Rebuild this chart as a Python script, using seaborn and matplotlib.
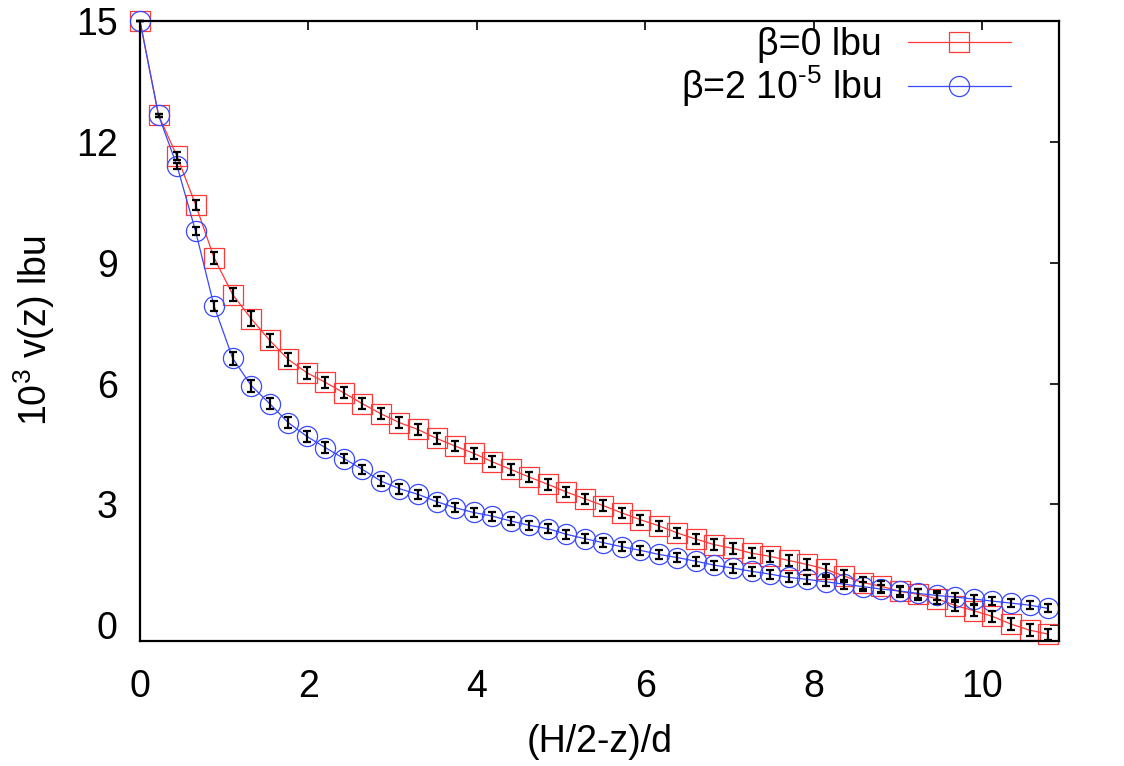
import numpy as np
import pandas as pd
import seaborn as sns
import matplotlib.pyplot as plt

# data (x step 0.22)
x = np.round(np.arange(50) * 0.22, 2)

v_beta0 = [15.0, 12.66, 11.64, 10.44, 9.12, 8.21, 7.61, 7.07, 6.60, 6.27,
           6.03, 5.77, 5.50, 5.25, 5.03, 4.86, 4.64, 4.45, 4.27, 4.06,
           3.87, 3.68, 3.50, 3.31, 3.14, 2.97, 2.79, 2.62, 2.47, 2.29,
           2.14, 2.00, 1.91, 1.79, 1.71, 1.61, 1.51, 1.39, 1.22, 1.06,
           0.97, 0.84, 0.77, 0.66, 0.49, 0.36, 0.22, 0.03, -0.12, -0.22]
err_beta0 = [0.0, 0.04, 0.10, 0.12, 0.14, 0.17, 0.18, 0.17, 0.16, 0.15,
             0.14, 0.14, 0.14, 0.14, 0.13, 0.13, 0.13, 0.13, 0.13, 0.13,
             0.13, 0.13, 0.13, 0.13, 0.13, 0.13, 0.13, 0.13, 0.13, 0.13,
             0.13, 0.13, 0.13, 0.13, 0.14, 0.14, 0.14, 0.14, 0.15, 0.15,
             0.14, 0.14, 0.14, 0.14, 0.14, 0.14, 0.14, 0.14, 0.14, 0.14]

v_beta2 = [15.0, 12.66, 11.40, 9.78, 7.92, 6.63, 5.95, 5.50, 5.03, 4.69,
           4.41, 4.14, 3.87, 3.58, 3.39, 3.25, 3.07, 2.92, 2.80, 2.71,
           2.59, 2.48, 2.40, 2.26, 2.15, 2.05, 1.95, 1.86, 1.76, 1.68,
           1.59, 1.49, 1.42, 1.34, 1.27, 1.19, 1.14, 1.08, 1.02, 0.96,
           0.90, 0.85, 0.79, 0.74, 0.70, 0.65, 0.60, 0.55, 0.50, 0.42]
err_beta2 = [0.0, 0.04, 0.08, 0.10, 0.12, 0.16, 0.15, 0.14, 0.14, 0.13,
             0.13, 0.12, 0.12, 0.12, 0.12, 0.11, 0.11, 0.11, 0.11, 0.11,
             0.11, 0.11, 0.11, 0.11, 0.11, 0.11, 0.11, 0.11, 0.11, 0.11,
             0.11, 0.11, 0.11, 0.11, 0.11, 0.11, 0.11, 0.11, 0.11, 0.11,
             0.11, 0.11, 0.11, 0.11, 0.11, 0.11, 0.10, 0.10, 0.10, 0.10]

labels = ['β=0 lbu', 'β=2 10$^{\u20105}$ lbu']

df = pd.DataFrame({
    'x': np.concatenate([x, x]),
    'v': v_beta0 + v_beta2,
    'err': err_beta0 + err_beta2,
    'run': [labels[0]] * len(x) + [labels[1]] * len(x),
})

sns.set_style('white')
plt.rcParams['font.family'] = ['Liberation Sans', 'DejaVu Sans']
plt.rcParams['mathtext.fontset'] = 'custom'
plt.rcParams['mathtext.rm'] = 'Liberation Sans'
plt.rcParams['mathtext.default'] = 'rm'
plt.rcParams['text.color'] = 'black'
plt.rcParams['axes.labelcolor'] = 'black'
plt.rcParams['xtick.color'] = 'black'
plt.rcParams['ytick.color'] = 'black'
fs = 27

fig = plt.figure(figsize=(11.24, 7.66), dpi=100)
ax = fig.add_axes([140 / 1124, 1 - 641 / 766, 919 / 1124, 620 / 766])

colors = {labels[0]: '#ff3838', labels[1]: '#3848ff'}
marks = {labels[0]: 's', labels[1]: 'o'}

for lab in labels:
    d = df[df['run'] == lab]
    sns.lineplot(data=d, x='x', y='v', ax=ax, color=colors[lab], lw=0.9,
                 marker=marks[lab], markersize=14.5, markerfacecolor='none',
                 markeredgecolor=colors[lab], markeredgewidth=0.9,
                 label=lab, zorder=2, clip_on=False)

# black error bars on top
for lab in labels:
    d = df[df['run'] == lab]
    ax.errorbar(d['x'], d['v'], yerr=d['err'], fmt='none', ecolor='black',
                elinewidth=1.6, capsize=3.2, capthick=1.6, zorder=3,
                clip_on=False)

ax.set_xlim(0, 10.91)
ax.set_ylim(-0.39, 15)
ax.set_xticks([0, 2, 4, 6, 8, 10])
ax.set_yticks([0, 3, 6, 9, 12, 15])
ax.tick_params(direction='in', top=True, right=True, length=6.5, width=1.2,
               labelsize=fs)
ax.tick_params(axis='x', pad=20)
ax.tick_params(axis='y', pad=16)
for s in ax.spines.values():
    s.set_linewidth(1.6)
    s.set_color('black')

ax.set_xlabel('(H/2-z)/d', fontsize=fs, labelpad=14)
ax.set_ylabel('10$^3$ v(z) lbu', fontsize=fs, labelpad=14)

ax.legend(loc='upper right', bbox_to_anchor=(0.9478, 0.99), frameon=False,
          markerfirst=False, fontsize=fs, handlelength=2.75,
          handletextpad=0.7, labelspacing=0.0, borderpad=0,
          borderaxespad=0, numpoints=1)

plt.savefig('out.png', dpi=100)
